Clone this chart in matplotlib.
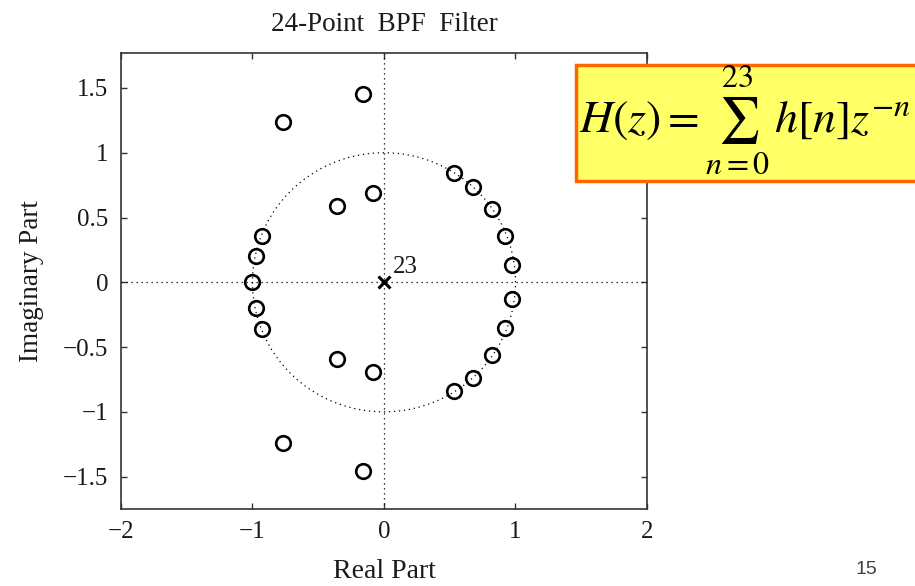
import numpy as np
import matplotlib
matplotlib.use("Agg")
import matplotlib.pyplot as plt
from matplotlib.patches import Rectangle

# zeros in the upper half plane (the lower half are their conjugates) plus z = -1
zeros_re_upper = [-0.16, -0.77, 0.535, 0.68, 0.82, 0.92, 0.975, -0.08, -0.36, -0.93, -0.975]
zeros_im_upper = [1.455, 1.24, 0.84, 0.735, 0.565, 0.355, 0.13, 0.69, 0.59, 0.36, 0.20]
zeros_re_axis = [-1.0]
zeros_im_axis = [0.0]

# 23rd-order pole at the origin
poles_re = [0.0]
poles_im = [0.0]
pole_order = "23"

xticks = [-2, -1, 0, 1, 2]
xticklabels = ["\u22122", "\u22121", "0", "1", "2"]
yticks = [-1.5, -1, -0.5, 0, 0.5, 1, 1.5]
yticklabels = ["\u22121.5", "\u22121", "\u22120.5", "0", "0.5", "1", "1.5"]

serif = ["Liberation Serif", "DejaVu Serif"]
ink = "#1a1a1a"

fig = plt.figure(figsize=(9.15, 5.86), dpi=100)
ax = fig.add_axes([0.1322, 0.1314, 0.5749, 0.7782])

# unit circle and the two axes, dotted
t = np.linspace(0, 2 * np.pi, 400)
ax.plot(np.cos(t), np.sin(t), color="black", linestyle=(0, (1, 3)), linewidth=0.9)
ax.axhline(0, color="black", linestyle=(0, (1, 3)), linewidth=0.9)
ax.axvline(0, color="black", linestyle=(0, (1, 3)), linewidth=0.9)

zr = list(zeros_re_upper) + list(zeros_re_upper) + zeros_re_axis
zi = list(zeros_im_upper) + [-v for v in zeros_im_upper] + zeros_im_axis
ax.plot(zr, zi, linestyle="none", marker="o", markersize=10.5,
        markerfacecolor="none", markeredgecolor="black", markeredgewidth=1.9)
ax.plot(poles_re, poles_im, linestyle="none", marker="x", markersize=9,
        markeredgecolor="black", markeredgewidth=2.2)
ax.text(poles_re[0] + 0.07, poles_im[0] + 0.07, pole_order, family=serif,
        fontsize=18, color=ink)

ax.set_xlim(-2, 2)
ax.set_ylim(-1.75, 1.77)
ax.set_xticks(xticks)
ax.set_xticklabels(xticklabels, family=serif, fontsize=18, color=ink)
ax.set_yticks(yticks)
ax.set_yticklabels(yticklabels, family=serif, fontsize=18, color=ink)
ax.tick_params(direction="in", length=4, width=1, top=True, right=True, pad=9,
               color="#333333")
for s in ax.spines.values():
    s.set_linewidth(1.2)
    s.set_color("#333333")

ax.set_title("24-Point  BPF  Filter", family=serif, fontsize=19.5, pad=16, color=ink)
ax.set_xlabel("Real Part", family=serif, fontsize=20, labelpad=11, color=ink)
ax.set_ylabel("Imaginary Part", family=serif, fontsize=19.5, labelpad=14, color=ink)

# transfer function box, running off the right edge of the slide
box = Rectangle((576 / 915, 1 - 181 / 586), 0.5, (181 - 65) / 586,
                transform=fig.transFigure, facecolor="#ffff66",
                edgecolor="#ff6600", linewidth=2.5, zorder=5)
fig.add_artist(box)
plt.rcParams["mathtext.fontset"] = "stix"
fig.text(579 / 915, 1 - 120 / 586, r"$H(z) = \sum_{n=0}^{23}\, h[n]z^{-n}$",
         fontsize=33, va="center", ha="left", zorder=6)

fig.text(866 / 915, 1 - 570 / 586, "15", family=["Liberation Sans"], fontsize=14,
         color="#404040", ha="center", va="center")

fig.savefig("out.png", dpi=100, facecolor="white")
